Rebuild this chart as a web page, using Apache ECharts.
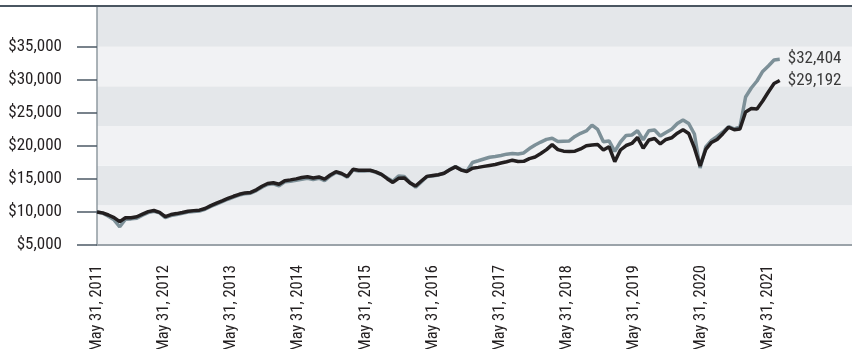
<!DOCTYPE html>
<html>
<head>
<meta charset="utf-8">
<script src="https://cdn.jsdelivr.net/npm/echarts@6/dist/echarts.min.js"></script>
<style>
html,body{margin:0;padding:0;background:#fff;}
#chart{width:852px;height:349px;}
</style>
</head>
<body>
<div id="chart"></div>
<script>
// Monthly values, May 31, 2011 .. May 31, 2021 (121 points)
const fundValues = [
10000, 9800, 9350, 8800, 7750, 8900, 8950, 9050, 9500, 9900,
10100, 9850, 9150, 9450, 9600, 9800, 10000, 10080, 10150, 10400,
10850, 11200, 11550, 11920, 12250, 12560, 12760, 12830, 13230, 13750,
14150, 14250, 13950, 14550, 14650, 14800, 14950, 15100, 14900, 15100,
14750, 15450, 15950, 15750, 15250, 16350, 16200, 16200, 16250, 16000,
15650, 15150, 14650, 15450, 15350, 14450, 13750, 14550, 15350, 15450,
15600, 15850, 16400, 16850, 16400, 16150, 17480, 17740, 18010, 18270,
18400, 18540, 18740, 18840, 18780, 18920, 19590, 20130, 20570, 20980,
21140, 20640, 20690, 20740, 21420, 21900, 22250, 23130, 22480, 20630,
20740, 19150, 20580, 21570, 21640, 22280, 20890, 22290, 22400, 21490,
22020, 22510, 23380, 23910, 23380, 21790, 16650, 19830, 20810, 21420,
22100, 22900, 22550, 22850, 27390, 28750, 29810, 31250, 32080, 32990,
33100
];
const indexValues = [
10000, 9860, 9540, 9150, 8530, 9130, 9130, 9270, 9680, 10050,
10220, 9930, 9300, 9600, 9750, 9920, 10110, 10200, 10270, 10520,
10960, 11320, 11670, 12040, 12370, 12670, 12880, 12950, 13350, 13880,
14300, 14420, 14180, 14730, 14850, 15000, 15210, 15320, 15140, 15290,
14960, 15590, 16090, 15820, 15360, 16450, 16310, 16290, 16300, 16060,
15670, 15030, 14460, 15090, 15150, 14400, 13930, 14680, 15380, 15500,
15620, 15860, 16390, 16820, 16330, 16120, 16620, 16740, 16890, 17040,
17180, 17400, 17600, 17830, 17620, 17650, 18070, 18310, 18840, 19430,
20190, 19430, 19190, 19150, 19190, 19530, 20010, 20130, 20200, 19370,
19870, 17600, 19370, 20050, 20360, 21270, 19630, 20890, 21110, 20280,
20960, 21220, 21920, 22430, 21870, 19680, 16950, 19450, 20510, 20960,
21840, 22810, 22430, 22550, 25120, 25650, 25580, 26790, 28150, 29430,
29890
];
const endLabels = ['$32,404', '$29,192'];
const xTickLabels = ['May 31, 2011','May 31, 2012','May 31, 2013','May 31, 2014','May 31, 2015','May 31, 2016','May 31, 2017','May 31, 2018','May 31, 2019','May 31, 2020','May 31, 2021'];
const yTickValues = [5000, 10000, 15000, 20000, 25000, 30000, 35000];
const yTickLabels = ['$5,000','$10,000','$15,000','$20,000','$25,000','$30,000','$35,000'];

const FONT = "'Liberation Sans Narrow', 'Arial Narrow', 'Roboto Condensed', sans-serif";
const chart = echarts.init(document.getElementById('chart'), null, {renderer: 'canvas'});
chart.setOption({
  animation: false,
  backgroundColor: '#ffffff',
  grid: {left: 97, right: 0, top: 7, bottom: 104, containLabel: false, outerBoundsMode: 'none'},
  graphic: [{type: 'rect', left: 0, top: 5, z: 100, shape: {width: 852, height: 2}, style: {fill: '#4a5661'}}],
  xAxis: [
    {type: 'value', min: 0, max: 132.7, show: false},
    {type: 'value', min: 0, max: 11.25, interval: 1, position: 'bottom',
     axisLine: {show: true, lineStyle: {color: '#9ba3a9', width: 2}},
     axisTick: {show: false}, splitLine: {show: false},
     axisLabel: {rotate: 90, margin: 20, color: '#231f20', fontSize: 16.5, fontFamily: FONT,
       customValues: [0,1,2,3,4,5,6,7,8,9,10],
       formatter: v => xTickLabels[Math.round(v)] || ''}}
  ],
  yAxis: [
    {type: 'value', min: 5000, max: 41000, interval: 5000,
     axisLine: {show: true, lineStyle: {color: '#8f9aa1', width: 1.5}},
     axisTick: {show: true, inside: false, length: 20, lineStyle: {color: '#4c5965', width: 1.5}, customValues: yTickValues},
     splitLine: {show: false},
     axisLabel: {margin: 35, color: '#231f20', fontSize: 17, fontFamily: FONT, padding: [0, 0, 10, 0],
       customValues: yTickValues,
       formatter: v => yTickLabels[yTickValues.indexOf(v)] || ''}},
    {type: 'value', min: 0, max: 6, interval: 1, position: 'right',
     axisLine: {show: false}, axisTick: {show: false}, axisLabel: {show: false}, splitLine: {show: false},
     splitArea: {show: true, areaStyle: {color: ['#f1f2f4', '#e4e7ea']}}}
  ],
  series: [
    {name: 'Fund', type: 'line', xAxisIndex: 0, yAxisIndex: 0, symbol: 'none',
     lineStyle: {color: '#7d9098', width: 3.5}, z: 3,
     data: fundValues.map((v, i) => [i, v]),
     endLabel: {show: true, formatter: endLabels[0], distance: 8, color: '#3a3a3a', fontSize: 17, fontFamily: FONT}},
    {name: 'Index', type: 'line', xAxisIndex: 0, yAxisIndex: 0, symbol: 'none',
     lineStyle: {color: '#231f20', width: 3.5}, z: 4,
     data: indexValues.map((v, i) => [i, v]),
     endLabel: {show: true, formatter: endLabels[1], distance: 8, color: '#3a3a3a', fontSize: 17, fontFamily: FONT}}
  ]
});
</script>
</body>
</html>
